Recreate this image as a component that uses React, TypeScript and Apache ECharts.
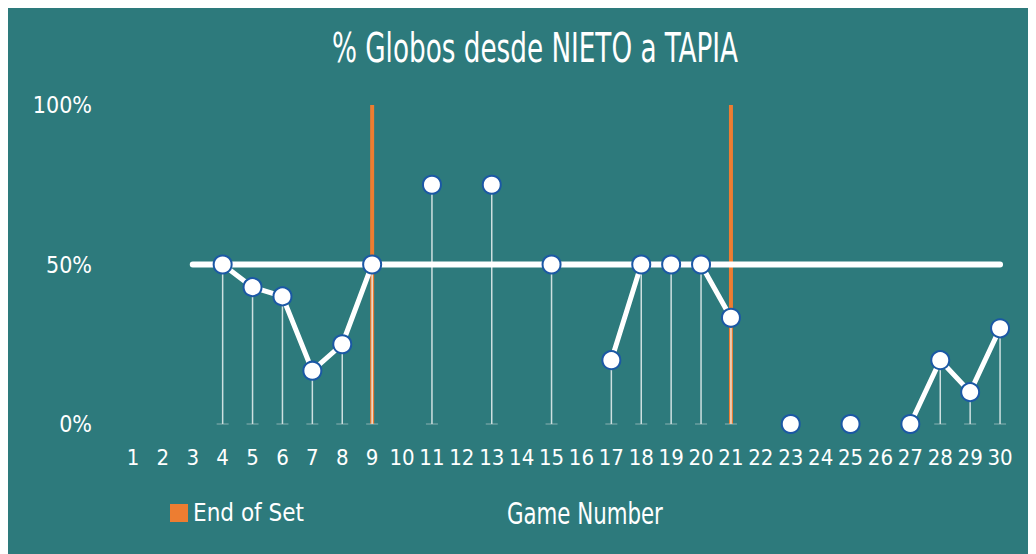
import React, { useEffect, useRef } from "react";
import * as echarts from "echarts";

const games: string[] = Array.from({ length: 30 }, (_, i) => String(i + 1));
const globos: (number | null)[] = [
  null, null, null, 50, 42.9, 40, 16.7, 25, 50, null,
  75, null, 75, null, 50, null, 20, 50, 50, 50,
  33.3, null, 0, null, 0, null, 0, 20, 10, 30,
];
const endOfSetGames: string[] = ["9", "21"];
const referenceFrom = "3";
const referenceTo = "30";
const referenceValue = 50;
const yTicks = [0, 50, 100];

const FONT = "'DejaVu Sans Condensed', 'DejaVu Sans', sans-serif";
const BG = "#2D7A7C";
const ORANGE = "#ED7D31";

export default function App() {
  const ref = useRef<HTMLDivElement>(null);
  useEffect(() => {
    if (!ref.current) return;
    const chart = echarts.init(ref.current, undefined, { renderer: "svg" });

    const endData = games.map((g) => (endOfSetGames.includes(g) ? 100 : null));
    const fromIdx = games.indexOf(referenceFrom);
    const toIdx = games.indexOf(referenceTo);
    const refData = games.map((_, i) => (i >= fromIdx && i <= toIdx ? referenceValue : null));
    const dropData = globos
      .map((v, i) => (v == null ? null : [i, v]))
      .filter((d) => d !== null) as number[][];

    chart.setOption({
      animation: false,
      backgroundColor: BG,
      textStyle: { fontFamily: FONT, color: "#fff" },
      grid: { left: 110, right: 21, top: 97, bottom: 130 },
      legend: {
        data: [{ name: "End of Set", icon: "rect" }],
        left: 162,
        top: 493,
        padding: 0,
        itemWidth: 18,
        itemHeight: 18,
        itemGap: 8,
        textStyle: { color: "#fff", fontSize: 24, fontFamily: FONT },
      },
      graphic: [
        {
          type: "text",
          x: 527,
          y: 40,
          scaleX: 0.73,
          style: {
            text: "% Globos desde NIETO a TAPIA",
            fill: "#fff",
            font: `40px ${FONT}`,
            textAlign: "center",
            textVerticalAlign: "middle",
          },
        },
        {
          type: "text",
          x: 499,
          y: 505,
          scaleX: 0.79,
          style: {
            text: "Game Number",
            fill: "#fff",
            font: `30px ${FONT}`,
            textAlign: "left",
            textVerticalAlign: "middle",
          },
        },
      ],
      xAxis: {
        type: "category",
        data: games,
        boundaryGap: true,
        axisLine: { show: false },
        axisTick: { show: false },
        axisLabel: { color: "#fff", fontSize: 22, fontFamily: FONT, interval: 0, margin: 22 },
      },
      yAxis: {
        type: "value",
        min: 0,
        max: 100,
        interval: 50,
        splitLine: { show: false },
        axisLine: { show: false },
        axisTick: { show: false },
        axisLabel: {
          color: "#fff",
          fontSize: 23,
          fontFamily: FONT,
          margin: 26,
          formatter: (v: number) => (yTicks.includes(v) ? `${v}%` : ""),
        },
      },
      series: [
        {
          name: "End of Set",
          type: "bar",
          data: endData,
          barWidth: 4,
          itemStyle: { color: ORANGE },
          z: 1,
        },
        {
          name: "drop",
          type: "custom",
          data: dropData,
          z: 2,
          renderItem: (params: any, api: any) => {
            const v = api.value(1);
            if (!(v > 0)) return null;
            const top = api.coord([api.value(0), v]);
            const bot = api.coord([api.value(0), 0]);
            return {
              type: "group",
              children: [
                {
                  type: "line",
                  shape: { x1: top[0], y1: top[1], x2: bot[0], y2: bot[1] },
                  style: { stroke: "rgba(235,242,242,0.85)", lineWidth: 1.5 },
                },
                {
                  type: "line",
                  shape: { x1: bot[0] - 6, y1: bot[1], x2: bot[0] + 6, y2: bot[1] },
                  style: { stroke: "rgba(200,215,215,0.6)", lineWidth: 1 },
                },
              ],
            };
          },
        },
        {
          name: "50%",
          type: "line",
          data: refData,
          symbol: "none",
          lineStyle: { color: "#fff", width: 6, cap: "round" },
          z: 3,
        },
        {
          name: "% Globos",
          type: "line",
          data: globos,
          connectNulls: false,
          symbol: "circle",
          symbolSize: 18,
          showAllSymbol: true,
          lineStyle: { color: "#fff", width: 5 },
          itemStyle: { color: "#fff", borderColor: "#1B58A5", borderWidth: 2 },
          z: 4,
        },
      ],
    });
    return () => chart.dispose();
  }, []);
  return <div ref={ref} style={{ width: 1028, height: 546 }} />;
}
